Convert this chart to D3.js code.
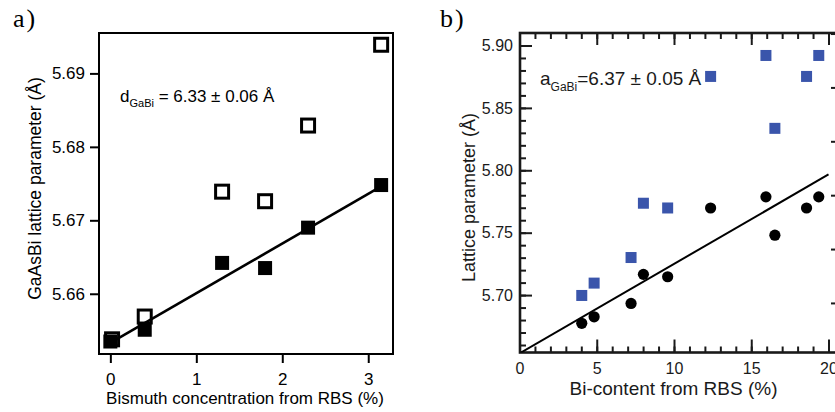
<!DOCTYPE html>
<html><head><meta charset="utf-8">
<script src="https://cdn.jsdelivr.net/npm/d3@7"></script>
<style>
body{margin:0;background:#fff;}
svg text{font-family:"Liberation Sans", Arial, Helvetica, sans-serif;}
</style></head><body>
<svg id="chart" width="835" height="412"></svg>
<script>
// ---- Panel a: GaAsBi lattice parameter vs Bi concentration ----
const aBi        = [0, 0.40, 1.30, 1.80, 2.30, 3.15];
const aRelaxed   = [5.6535, 5.6551, 5.6642, 5.6635, 5.6690, 5.6748];
const aOpenBi    = [0.02, 0.40, 1.30, 1.80, 2.30, 3.15];
const aUnrelaxed = [5.6538, 5.6569, 5.6739, 5.6726, 5.6829, 5.6939];
const aXTicks = [0, 1, 2, 3];
const aYTicks = [5.66, 5.67, 5.68, 5.69];
const aGaBi = 6.33, aGaBiErr = 0.06;

// ---- Panel b: lattice parameter vs Bi content ----
const bBi      = [4.03, 4.83, 7.22, 8.02, 9.59, 12.37, 15.95, 16.53, 18.58, 19.37];
const bCircles = [5.6774, 5.6826, 5.6933, 5.7166, 5.7147, 5.7698, 5.7787, 5.7480, 5.7698, 5.7787];
const bSquares = [5.6997, 5.7096, 5.7301, 5.7736, 5.7698, 5.8752, 5.8920, 5.8336, 5.8752, 5.8920];
const bXTicks = [0, 5, 10, 15, 20];
const bYTicks = [5.70, 5.75, 5.80, 5.85, 5.90];
const bRightTicks = [0, 1, 2, 3, 4, 5];
const bGaBi = 6.37, bGaBiErr = 0.05;

const gaAs = 5.6533;               // GaAs lattice constant (Å)
const vegard = (x, aEnd) => gaAs + (aEnd - gaAs) * x / 100;

const svg = d3.select("#chart");

// ======================= panel a =======================
{
  const L = 99, R = 393, T = 33, B = 354;
  const x = d3.scaleLinear().domain([-0.132, 3.288]).range([L, R]);
  const y = d3.scaleLinear().domain([5.6518, 5.6955]).range([B, T]);
  const g = svg.append("g");

  g.append("text").attr("x", 13).attr("y", 26.5)
    .style("font-family", "'Liberation Serif','DejaVu Serif',serif")
    .style("font-size", "26px").style("letter-spacing", "2px").text("a)");

  const ya = g.append("g").attr("transform", `translate(${L},0)`)
    .call(d3.axisLeft(y).tickValues(aYTicks).tickFormat(d3.format(".2f"))
      .tickSize(9).tickPadding(5));
  const xa = g.append("g").attr("transform", `translate(0,${B})`)
    .call(d3.axisBottom(x).tickValues(aXTicks).tickFormat(d3.format("d"))
      .tickSize(9).tickPadding(10));
  [ya, xa].forEach(a => {
    a.select(".domain").remove();
    a.selectAll("line").attr("stroke", "#000").attr("stroke-width", 2);
    a.selectAll("text").attr("fill", "#000").style("font-size", "17px");
  });

  g.append("rect").attr("x", L).attr("y", T).attr("width", R - L).attr("height", B - T)
    .attr("fill", "none").attr("stroke", "#000").attr("stroke-width", 2);

  g.append("line")
    .attr("x1", x(0)).attr("y1", y(vegard(0, aGaBi)))
    .attr("x2", x(3.15)).attr("y2", y(vegard(3.15, aGaBi)))
    .attr("stroke", "#000").attr("stroke-width", 2.6);

  const so = 13;
  g.selectAll(".open").data(aOpenBi).join("rect")
    .attr("x", (d) => x(d) - so / 2).attr("y", (d, i) => y(aUnrelaxed[i]) - so / 2)
    .attr("width", so).attr("height", so)
    .attr("fill", "none").attr("stroke", "#000").attr("stroke-width", 3);
  const sf = 14;
  g.selectAll(".filled").data(aBi).join("rect")
    .attr("x", (d) => x(d) - sf / 2).attr("y", (d, i) => y(aRelaxed[i]) - sf / 2)
    .attr("width", sf).attr("height", sf).attr("fill", "#000");

  const t = g.append("text").attr("x", 120).attr("y", 101.5).style("font-size", "17px");
  t.append("tspan").text("d");
  t.append("tspan").attr("dy", 5).style("font-size", "11px").text("GaBi");
  t.append("tspan").attr("dy", -5).text(` = ${aGaBi.toFixed(2)} ± ${aGaBiErr.toFixed(2)} Å`);

  g.append("text").attr("transform", `translate(41,188.5) rotate(-90)`)
    .attr("text-anchor", "middle").style("font-size", "17.5px")
    .text("GaAsBi lattice parameter (Å)");
  g.append("text").attr("x", 245).attr("y", 404).attr("text-anchor", "middle")
    .style("font-size", "17px").text("Bismuth concentration from RBS (%)");
}

// ======================= panel b =======================
{
  const L = 520, R = 838, T = 33, B = 352.5;
  const x = d3.scaleLinear().domain([0, 20]).range([519.5, 828.5]);
  const y = d3.scaleLinear().domain([5.654, 5.910]).range([B, T]);
  const yR = d3.scaleLinear().domain([-0.92, 5.01]).range([B, T]);
  const g = svg.append("g");
  const ink = "#1a1a1a";

  g.append("text").attr("x", 440).attr("y", 26.5)
    .style("font-family", "'Liberation Serif','DejaVu Serif',serif")
    .style("font-size", "26px").style("letter-spacing", "2px").text("b)");

  const yMinor = d3.range(5.66, 5.905, 0.01);
  const xMinor = d3.range(1, 20, 1);

  const axes = [];
  axes.push(g.append("g").attr("transform", `translate(${L},0)`)
    .call(d3.axisLeft(y).tickValues(yMinor).tickFormat("").tickSize(-6)));
  axes.push(g.append("g").attr("transform", `translate(${L},0)`)
    .call(d3.axisLeft(y).tickValues(bYTicks).tickFormat(d3.format(".2f"))
      .tickSizeInner(-12).tickSizeOuter(0).tickPadding(7)));
  axes.push(g.append("g").attr("transform", `translate(0,${B})`)
    .call(d3.axisBottom(x).tickValues(xMinor).tickFormat("").tickSize(-6)));
  axes.push(g.append("g").attr("transform", `translate(0,${B})`)
    .call(d3.axisBottom(x).tickValues(bXTicks).tickFormat(d3.format("d"))
      .tickSizeInner(-13).tickSizeOuter(0).tickPadding(10)));
  axes.push(g.append("g").attr("transform", `translate(0,${T})`)
    .call(d3.axisTop(x).tickValues(xMinor).tickFormat("").tickSize(-6)));
  axes.push(g.append("g").attr("transform", `translate(0,${T})`)
    .call(d3.axisTop(x).tickValues(bXTicks).tickFormat("").tickSize(-12)));
  axes.push(g.append("g").attr("transform", `translate(${R},0)`)
    .call(d3.axisRight(yR).tickValues(bRightTicks).tickFormat("").tickSize(-7)));
  axes.forEach(a => {
    a.select(".domain").remove();
    a.selectAll("line").attr("stroke", ink).attr("stroke-width", 2);
    a.selectAll("text").attr("fill", ink).style("font-size", "16px");
  });

  g.append("rect").attr("x", L).attr("y", T).attr("width", R - L).attr("height", B - T)
    .attr("fill", "none").attr("stroke", ink).attr("stroke-width", 2.6);

  g.append("defs").append("clipPath").attr("id", "clipB")
    .append("rect").attr("x", L).attr("y", T).attr("width", R - L).attr("height", B - T);
  g.append("line").attr("clip-path", "url(#clipB)")
    .attr("x1", x(0)).attr("y1", y(vegard(0, bGaBi)))
    .attr("x2", x(20)).attr("y2", y(vegard(20, bGaBi)))
    .attr("stroke", "#000").attr("stroke-width", 2);

  g.selectAll(".circ").data(bBi).join("circle")
    .attr("cx", (d) => x(d)).attr("cy", (d, i) => y(bCircles[i]))
    .attr("r", 5.6).attr("fill", "#000");
  const s = 11;
  g.selectAll(".sq").data(bBi).join("rect")
    .attr("x", (d) => x(d) - s / 2).attr("y", (d, i) => y(bSquares[i]) - s / 2)
    .attr("width", s).attr("height", s).attr("fill", "#3a55ab");

  const t = g.append("text").attr("x", 540).attr("y", 85).attr("fill", ink)
    .style("font-size", "19px");
  t.append("tspan").text("a");
  t.append("tspan").attr("dy", 6).style("font-size", "12px").text("GaBi");
  t.append("tspan").attr("dy", -6).text(`=${bGaBi.toFixed(2)} ± ${bGaBiErr.toFixed(2)} Å`);

  g.append("text").attr("transform", `translate(475,197.5) rotate(-90)`)
    .attr("text-anchor", "middle").attr("fill", ink).style("font-size", "18px")
    .text("Lattice parameter (Å)");
  g.append("text").attr("x", 673.5).attr("y", 395).attr("text-anchor", "middle")
    .attr("fill", ink).style("font-size", "19px").text("Bi-content from RBS (%)");
}
</script>
</body></html>
